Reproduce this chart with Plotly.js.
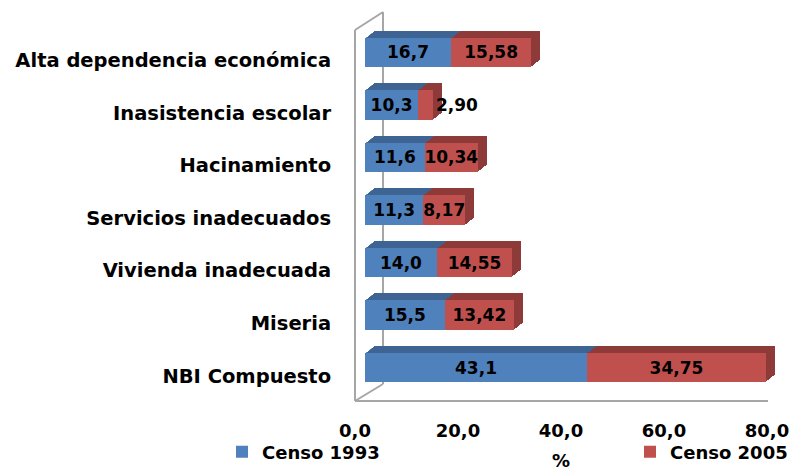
<!DOCTYPE html>
<html>
<head>
<meta charset="utf-8">
<script src="https://cdn.plot.ly/plotly-3.0.1.min.js"></script>
<style>html,body{margin:0;padding:0;background:#fff;}#chart{width:804px;height:470px;}</style>
</head>
<body>
<div id="chart"></div>
<script>
// ---- data ----
const categories = ['Alta dependencia económica','Inasistencia escolar','Hacinamiento','Servicios inadecuados','Vivienda inadecuada','Miseria','NBI Compuesto'];
const censo1993 = [16.7, 10.3, 11.6, 11.3, 14.0, 15.5, 43.1];
const censo2005 = [15.58, 2.90, 10.34, 8.17, 14.55, 13.42, 34.75];
const seriesNames = ['Censo 1993', 'Censo 2005'];
const xTickVals = [0, 20, 40, 60, 80];
const axisTitle = '%';

// ---- styling / layout geometry ----
const W = 804, H = 470, ML = 355, MR = 10, MT = 10, MB = 68;
const PW = W - ML - MR, PH = H - MT - MB;
const AX_LEN = 412, AY_LEN = 368;
const FONT = 'DejaVu Sans, Arial, sans-serif';
const colFront = ['#4F81BD', '#C0504D'];
const colDepth = ['#3D6493', '#8E3A38'];
const DEPTH_STEPS = 7, DX = 9, DY = 7, FRONT_DX = 10, FRONT_DY = 8;

function xd(o) { return [o / PW, (o + AX_LEN) / PW]; }
function yd(o) { return [o / PH, (o + AY_LEN) / PH]; }
function px(x) { return (x - ML) / PW; }
function py(y) { return (MT + PH - y) / PH; }

const fmt = (v, d) => v.toFixed(d).replace('.', ',');
const boldFont = size => ({family: FONT, size: size, color: '#000', weight: 'bold'});

const legendBase = {orientation: 'h', y: py(452), xanchor: 'left', yanchor: 'middle',
  font: boldFont(18), bgcolor: 'rgba(0,0,0,0)', borderwidth: 0};

const layout = {
  width: W, height: H,
  margin: {l: ML, r: MR, t: MT, b: MB, pad: 0, autoexpand: false},
  paper_bgcolor: '#fff', plot_bgcolor: 'rgba(0,0,0,0)',
  barmode: 'stack', bargap: 0.44,
  separators: ',.',
  font: boldFont(17),
  showlegend: true,
  legend: Object.assign({x: px(222)}, legendBase),
  legend2: Object.assign({x: px(630)}, legendBase),
  xaxis: {domain: xd(0), range: [0, 80], tickvals: xTickVals, tickformat: '.1f',
          showgrid: false, zeroline: false, showline: false,
          ticks: 'outside', ticklen: 12, tickcolor: 'rgba(0,0,0,0)',
          tickfont: boldFont(18), fixedrange: true},
  yaxis: {domain: yd(0), type: 'category', categoryorder: 'array', categoryarray: categories,
          range: [categories.length - 0.5, -0.5],
          showgrid: false, zeroline: false, showline: false,
          ticks: 'outside', ticklen: 19, tickcolor: 'rgba(0,0,0,0)',
          tickfont: boldFont(19.5), fixedrange: true},
  annotations: [{text: axisTitle, xref: 'paper', yref: 'paper', x: px(561), y: py(460),
                 xanchor: 'center', yanchor: 'middle', showarrow: false, font: boldFont(18)}],
  shapes: []
};

// 3D frame lines (decoration)
const frameCol = '#A6A6A6';
[[355,30,355,401],[355,30,383,12],[383,12,383,384],[355,401,383,384],[355,401,768,401]].forEach(s => {
  layout.shapes.push({type: 'line', xref: 'paper', yref: 'paper', layer: 'below',
    x0: px(s[0]), y0: py(s[1]), x1: px(s[2]), y1: py(s[3]), line: {color: frameCol, width: 2}});
});

const traces = [];
// dummy trace to carry category labels on the main axes
traces.push({type: 'scatter', x: categories.map(() => 0), y: categories, mode: 'none',
             showlegend: false, hoverinfo: 'skip', xaxis: 'x', yaxis: 'y'});

function addSubplot(id, ox, oy) {
  const common = {showgrid: false, zeroline: false, showline: false, showticklabels: false, fixedrange: true, ticks: ''};
  layout['xaxis' + id] = Object.assign({domain: xd(ox), range: [0, 80], anchor: 'y' + id}, common);
  layout['yaxis' + id] = Object.assign({domain: yd(oy), type: 'category', categoryorder: 'array',
    categoryarray: categories, range: [categories.length - 0.5, -0.5], anchor: 'x' + id}, common);
}

// depth copies, deepest first
let id = 2;
for (let k = DEPTH_STEPS; k >= 1; k--, id++) {
  addSubplot(id, FRONT_DX + DX * k / DEPTH_STEPS, FRONT_DY + DY * k / DEPTH_STEPS);
  [censo1993, censo2005].forEach((vals, s) => {
    traces.push({type: 'bar', orientation: 'h', x: vals, y: categories,
      xaxis: 'x' + id, yaxis: 'y' + id, showlegend: false, hoverinfo: 'skip',
      marker: {color: colDepth[s], line: {width: 0}}});
  });
}
// front faces
addSubplot(id, FRONT_DX, FRONT_DY);
[censo1993, censo2005].forEach((vals, s) => {
  const dec = s === 0 ? 1 : 2;
  traces.push({type: 'bar', orientation: 'h', name: seriesNames[s], x: vals, y: categories,
    xaxis: 'x' + id, yaxis: 'y' + id, showlegend: true, legend: s === 0 ? 'legend' : 'legend2',
    marker: {color: colFront[s], line: {width: 0}},
    text: vals.map(v => fmt(v, dec)),
    textposition: vals.map(v => (s === 1 && v < 5) ? 'outside' : 'inside'),
    insidetextanchor: 'middle', textangle: 0, constraintext: 'none', cliponaxis: false,
    textfont: boldFont(17), insidetextfont: boldFont(17), outsidetextfont: boldFont(17)});
});

Plotly.newPlot('chart', traces, layout, {staticPlot: true, displayModeBar: false});
</script>
</body>
</html>
